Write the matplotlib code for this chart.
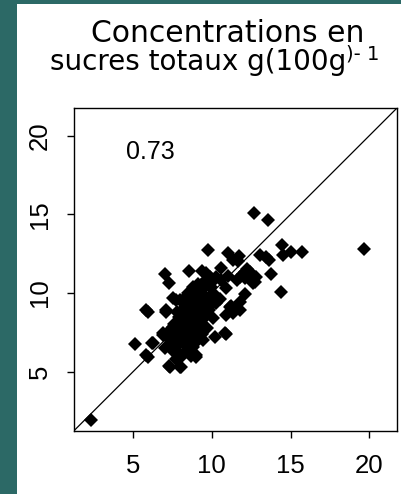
import matplotlib
matplotlib.use('Agg')
import matplotlib.pyplot as plt
from matplotlib.patches import Rectangle

# observed (x) vs predicted (y) total sugar, g/100g
x_vals = [12.65, 13.55, 19.68, 9.75, 11.02, 11.72, 14.47, 15.04, 15.71, 14.51, 13.03, 13.45,
          13.62, 13.77, 14.40, 12.08, 7.00, 7.28, 8.53, 9.40, 10.60, 12.25, 12.82, 12.60,
          10.92, 5.95, 7.07, 7.71, 8.38, 9.23, 9.65, 5.11, 6.17, 5.95, 7.28, 8.07, 9.02,
          10.87, 10.18, 11.80, 11.34, 2.36, 6.90, 11.32, 10.20, 11.20, 11.60, 12.30, 11.00,
          10.50, 12.00, 12.08, 11.76, 11.65, 10.60, 12.39, 12.08, 12.71, 11.76, 10.81, 8.59,
          9.22, 9.65, 10.28, 7.96, 7.11, 7.53, 9.33, 9.97, 10.28, 11.13, 11.44, 10.92, 10.07,
          8.91, 8.17, 7.53, 6.90, 7.32, 7.96, 8.80, 9.44, 9.01, 7.32, 7.96, 6.27, 5.85, 5.85,
          9.33, 7.60, 7.80, 8.00, 8.20, 8.40, 8.60, 8.80, 9.00, 9.20, 9.40, 7.50, 7.90, 8.30,
          8.60, 8.90, 9.20, 9.50, 9.80, 10.00, 7.30, 7.60, 7.90, 8.10, 8.40, 8.70, 8.90, 9.10,
          7.70, 8.10, 8.40, 8.70, 7.40, 7.20, 8.00, 8.30, 8.50, 8.80, 9.00, 9.30, 9.60, 9.80,
          10.10, 8.20, 8.50, 8.80, 9.60, 9.90, 7.80, 9.40, 9.70, 7.00, 8.60, 9.10, 8.00, 9.30,
          7.50, 8.90, 9.20, 8.30, 7.70]
y_vals = [15.07, 14.64, 12.79, 12.74, 12.53, 12.36, 13.05, 12.59, 12.59, 12.42, 12.42, 12.31,
          12.10, 11.21, 10.09, 9.94, 11.21, 10.62, 11.42, 11.42, 11.57, 11.51, 11.04, 10.62,
          10.30, 8.81, 8.81, 9.56, 9.77, 10.40, 11.26, 6.74, 6.81, 5.95, 5.36, 5.32, 5.95,
          7.40, 7.19, 8.92, 8.71, 1.93, 7.33, 12.10, 10.90, 9.20, 10.80, 11.00, 11.10,
          9.60, 11.20, 11.35, 11.04, 12.00, 10.83, 11.36, 10.93, 10.72, 9.45, 7.44, 9.13,
          9.56, 8.92, 9.35, 9.56, 8.92, 9.67, 10.51, 10.40, 11.04, 9.13, 8.92, 8.60, 8.39,
          8.08, 8.29, 7.86, 7.44, 7.02, 6.81, 6.59, 7.02, 6.06, 5.32, 5.32, 6.81, 6.06, 8.92,
          10.00, 7.00, 7.40, 7.80, 8.10, 8.50, 8.80, 9.20, 9.50, 9.90, 10.20, 6.40, 6.20, 6.70,
          7.10, 7.60, 8.00, 8.40, 8.90, 9.30, 7.60, 8.00, 8.50, 8.90, 9.30, 9.70, 10.10, 10.60,
          5.80, 6.00, 6.30, 6.00, 6.80, 7.20, 7.00, 7.30, 7.70, 8.10, 8.40, 8.80, 9.20, 9.70,
          10.00, 9.60, 10.00, 10.40, 10.80, 11.00, 8.80, 7.40, 7.80, 6.50, 6.50, 7.00, 8.20, 9.40,
          7.30, 8.80, 9.00, 7.90, 6.70]
r_text = '0.73'
ticks = [5, 10, 15, 20]
lims = [1.25, 21.75]

W, H = 402, 494
fig = plt.figure(figsize=(W / 100, H / 100), dpi=100)
fig.patch.set_facecolor('#2c6966')
fig.add_artist(Rectangle((17 / W, 0), 1, (H - 4) / H, transform=fig.transFigure,
                         facecolor='white', edgecolor='none', zorder=0))

ax = fig.add_axes([74 / W, (H - 430.7) / H, 323 / W, 322.7 / H])
ax.plot(x_vals, y_vals, linestyle='none', marker='D', ms=7.6, mew=0, color='black')
ax.plot(lims, lims, color='black', lw=0.9)
ax.set_xlim(lims)
ax.set_ylim(lims)
ax.set_xticks(ticks)
ax.set_yticks(ticks)
for s in ax.spines.values():
    s.set_linewidth(1.0)
ax.tick_params(length=5, width=1.0, direction='out')
ax.tick_params(axis='x', pad=12)
ax.tick_params(axis='y', pad=11, labelrotation=90)
for lab in ax.get_xticklabels() + ax.get_yticklabels():
    lab.set_fontfamily('Liberation Sans')
    lab.set_fontsize(18.5)
for lab in ax.get_yticklabels():
    lab.set_va('center')
ax.text(6.1, 18.96, r_text, fontfamily='Liberation Sans', fontsize=18,
        ha='center', va='center')

fig.text(228 / W, (H - 42) / H, 'Concentrations en', fontfamily='DejaVu Sans',
         fontsize=21.5, ha='center', va='baseline')
t2 = fig.text(50 / W, (H - 70) / H, 'sucres totaux g(100g', fontfamily='DejaVu Sans',
              fontsize=20, ha='left', va='baseline')
fig.canvas.draw()
bb = t2.get_window_extent(fig.canvas.get_renderer())
fig.text(bb.x1 / W, (H - 60) / H, ')- 1', fontfamily='DejaVu Sans', fontsize=14,
         ha='left', va='baseline')

fig.savefig('out.png', dpi=100, facecolor=fig.get_facecolor())
